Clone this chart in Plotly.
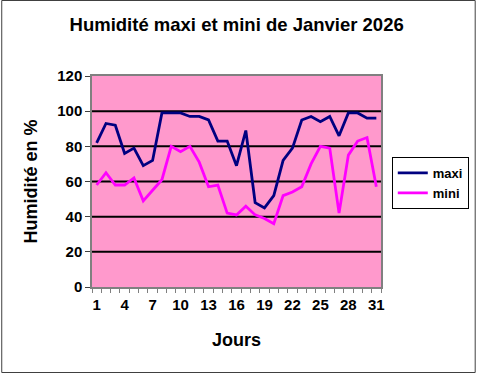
import plotly.graph_objects as go

jours = list(range(1, 32))
maxi = [82, 93, 92, 76, 79, 69, 72, 99, 99, 99, 97, 97, 95, 83, 83, 69,
        89, 48, 45, 52, 72, 79, 95, 97, 94, 97, 86, 99, 99, 96, 96]
mini = [58, 65, 58, 58, 62, 49, 55, 61, 80, 77, 80, 71, 57, 58, 42, 41,
        46, 41, 39, 36, 52, 54, 57, 70, 80, 79, 42, 75, 83, 85, 57]
y_ticks = [0, 20, 40, 60, 80, 100, 120]
grid_levels = [20, 40, 60, 80, 100]
x_ticks = [1, 4, 7, 10, 13, 16, 19, 22, 25, 28, 31]

FONT = "Liberation Sans, Arial, sans-serif"
W, H = 481, 374
ML, MR, MT, MB = 92, 96, 76, 87
PW, PH = W - ML - MR, H - MT - MB

fig = go.Figure()
fig.add_trace(go.Scatter(x=jours, y=maxi, mode="lines", name="<b>maxi</b>",
                         line=dict(color="#000080", width=2.8)))
fig.add_trace(go.Scatter(x=jours, y=mini, mode="lines", name="<b>mini</b>",
                         line=dict(color="#FF00FF", width=2.8)))

shapes = []
for g in grid_levels:
    shapes.append(dict(type="line", xref="paper", yref="y", x0=0, x1=1, y0=g, y1=g,
                       line=dict(color="black", width=2), layer="below"))
# outer chart border (pixel -> paper)
shapes.append(dict(type="rect", xref="paper", yref="paper",
                   x0=(0.5 - ML) / PW, x1=(480.5 - ML) / PW,
                   y0=(H - MB - 372.5) / PH, y1=(H - MB - 0.5) / PH,
                   line=dict(color="#404040", width=1), fillcolor="rgba(0,0,0,0)"))

fig.update_layout(
    width=W, height=H,
    margin=dict(l=ML, r=MR, t=MT, b=MB),
    paper_bgcolor="white", plot_bgcolor="#FF99CC",
    font=dict(family=FONT, color="black"),
    title=dict(text="<b>Humidité maxi et mini de Janvier 2026</b>",
               font=dict(size=18.5, family=FONT, color="black"),
               x=0.492, xanchor="center", y=1 - 25 / H, yanchor="middle"),
    showlegend=True,
    legend=dict(x=(474 - ML) / PW, y=(H - MB - 157) / PH, xanchor="right", yanchor="top",
                bgcolor="white", bordercolor="black", borderwidth=1,
                font=dict(size=13, family=FONT, color="black"),
                traceorder="normal", itemwidth=30),
    shapes=shapes,
)

fig.update_xaxes(
    range=[0.5, 31.5], tickmode="array", tickvals=x_ticks,
    ticktext=[f"<b>{v}</b>" for v in x_ticks], ticks="", showgrid=False, zeroline=False,
    tickfont=dict(size=15, family=FONT, color="black"),
    showline=True, linecolor="#808080", linewidth=1.5, mirror=True,
    minor=dict(ticks="outside", tickmode="linear", tick0=0.5, dtick=1,
               ticklen=4, tickcolor="#808080", tickwidth=1, showgrid=False),
    ticklabelstandoff=3,
    title=dict(text="<b>Jours</b>", font=dict(size=18, family=FONT, color="black"), standoff=22),
)
fig.update_yaxes(
    range=[0, 120], tickmode="array", tickvals=y_ticks,
    ticktext=[f"<b>{v}</b>" for v in y_ticks],
    ticks="outside", ticklen=5, tickcolor="#404040", tickwidth=1,
    showgrid=False, zeroline=False,
    tickfont=dict(size=15, family=FONT, color="black"),
    showline=True, linecolor="#808080", linewidth=1.5, mirror=True,
    title=dict(text="<b>Humidité en %</b>", font=dict(size=18, family=FONT, color="black"), standoff=15),
)

fig.write_html("out.html")
